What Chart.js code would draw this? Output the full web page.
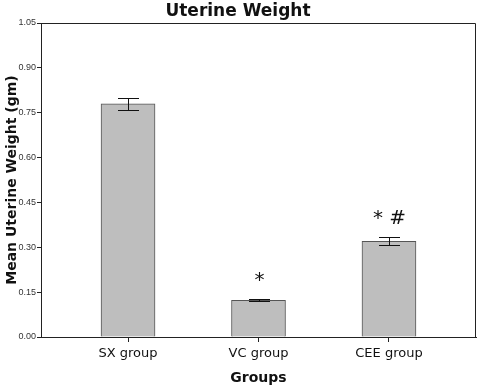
<!DOCTYPE html>
<html>
<head>
<meta charset="utf-8">
<script src="https://cdn.jsdelivr.net/npm/chart.js@4/dist/chart.umd.min.js"></script>
<style>
  body { margin: 0; background: #fff; }
  #wrap { width: 478px; height: 387px; }
</style>
</head>
<body>
<div id="wrap"><canvas id="uterineChart"></canvas></div>
<script>
// values
const groups = ['SX group', 'VC group', 'CEE group'];
const meanWeight = [0.78, 0.123, 0.32];
const errWeight = [0.02, 0.004, 0.013];
const signif = ['', '*', '* #'];
const yTicks = [0.00, 0.15, 0.30, 0.45, 0.60, 0.75, 0.90, 1.05];

const ctx = document.getElementById('uterineChart').getContext('2d');

// frame around the plot area (top and right edges)
const framePlugin = {
    id: 'frame',
    beforeDatasetsDraw(chart) {
        const a = chart.chartArea;
        const c = chart.ctx;
        c.save();
        c.strokeStyle = '#222';
        c.lineWidth = 1;
        c.beginPath();
        c.moveTo(a.left, a.top + 0.5);
        c.lineTo(a.right - 0.5, a.top + 0.5);
        c.lineTo(a.right - 0.5, a.bottom);
        c.stroke();
        c.restore();
    }
};

// error bars and significance marks
const errorPlugin = {
    id: 'errorBars',
    afterDatasetsDraw(chart) {
        const c = chart.ctx;
        const xs = chart.scales.x;
        const ys = chart.scales.y;
        c.save();
        c.strokeStyle = '#111';
        c.lineWidth = 1;
        meanWeight.forEach(function(m, i) {
            const x = Math.round(xs.getPixelForValue(i)) + 0.5;
            const yTop = Math.round(ys.getPixelForValue(m + errWeight[i])) + 0.5;
            const yBot = Math.round(ys.getPixelForValue(m - errWeight[i])) + 0.5;
            c.beginPath();
            c.moveTo(x, yTop); c.lineTo(x, yBot);
            c.moveTo(x - 10.5, yTop); c.lineTo(x + 10.5, yTop);
            c.moveTo(x - 10.5, yBot); c.lineTo(x + 10.5, yBot);
            c.stroke();

            if (signif[i]) {
                c.fillStyle = '#111';
                c.font = '20px "DejaVu Sans"';
                c.textAlign = 'center';
                c.textBaseline = 'alphabetic';
                c.fillText(signif[i], x, yTop - 14);
            }
        });
        c.restore();
    }
};

const chart = new Chart(ctx, {
    type: 'bar',
    data: {
        datasets: [{
            data: meanWeight.map(function(v, i) { return { x: i, y: v }; }),
            backgroundColor: '#bebebe',
            borderColor: '#555',
            borderWidth: 1,
            borderSkipped: 'bottom',
            barThickness: 54
        }]
    },
    options: {
        responsive: true,
        maintainAspectRatio: false,
        animation: false,
        layout: {
            padding: { left: 0, right: 2, top: 0, bottom: 0 }
        },
        plugins: {
            legend: { display: false },
            tooltip: { enabled: false },
            title: {
                display: true,
                text: 'Uterine Weight',
                color: '#111',
                font: { family: '"DejaVu Sans"', size: 17, weight: 'bold' },
                padding: { top: 1, bottom: 1.6 }
            }
        },
        scales: {
            x: {
                type: 'linear',
                offset: false,
                min: -0.667,
                max: 2.667,
                afterBuildTicks: function(scale) {
                    scale.ticks = groups.map(function(g, i) { return { value: i }; });
                },
                afterFit: function(scale) { scale.height = 50; },
                grid: {
                    offset: false,
                    drawOnChartArea: false,
                    drawTicks: true,
                    tickLength: 5,
                    color: '#222'
                },
                border: { color: '#222', width: 1 },
                ticks: {
                    color: '#111',
                    padding: 4,
                    maxRotation: 0,
                    font: { family: '"DejaVu Sans"', size: 13 },
                    callback: function(value) { return groups[value]; }
                },
                title: {
                    display: true,
                    text: 'Groups',
                    color: '#111',
                    font: { family: '"DejaVu Sans"', size: 14, weight: 'bold' },
                    padding: { top: 2, bottom: 0 }
                }
            },
            y: {
                min: 0,
                max: 1.05,
                afterBuildTicks: function(scale) {
                    scale.ticks = yTicks.map(function(v) { return { value: v }; });
                },
                afterFit: function(scale) { scale.width = 41; },
                grid: {
                    drawOnChartArea: false,
                    drawTicks: true,
                    tickLength: 4,
                    color: '#222'
                },
                border: { color: '#222', width: 1 },
                ticks: {
                    color: '#333',
                    padding: 1,
                    font: { family: '"Liberation Sans"', size: 9 },
                    callback: function(value) { return value.toFixed(2); }
                },
                title: {
                    display: true,
                    text: 'Mean Uterine Weight (gm)',
                    color: '#111',
                    font: { family: '"DejaVu Sans"', size: 14, weight: 'bold' },
                    padding: { top: 4, bottom: 0 }
                }
            }
        }
    },
    plugins: [framePlugin, errorPlugin]
});
</script>
</body>
</html>
